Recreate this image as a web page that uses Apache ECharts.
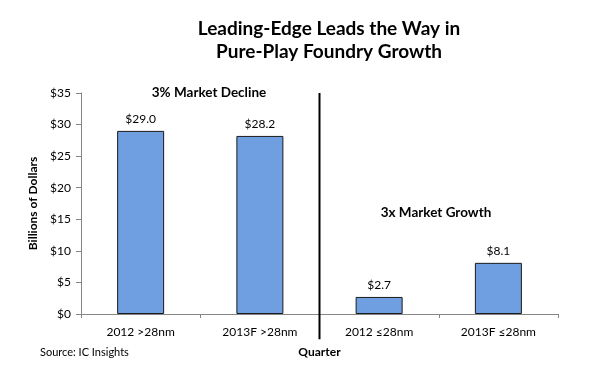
<!DOCTYPE html>
<html><head><meta charset="utf-8">
<script src="https://cdn.jsdelivr.net/npm/echarts@6/dist/echarts.min.js"></script>
<style>html,body{margin:0;padding:0;background:#fff}#c{width:600px;height:369px}</style>
</head><body><div id="c"></div>
<script>
var categories = ['2012 >28nm', '2013F >28nm', '2012 \u226428nm', '2013F \u226428nm'];
var values = [29.0, 28.2, 2.7, 8.1];
var yTicks = [0, 5, 10, 15, 20, 25, 30, 35];
var dividerLine = [[2, 35], [2, -4]];
var FONT = 'Lato';
var chart = echarts.init(document.getElementById('c'));
chart.setOption({
  animation: false,
  textStyle: {fontFamily: FONT},
  title: {
    text: 'Leading-Edge Leads the Way in\nPure-Play Foundry Growth',
    left: 324, top: 12, textAlign: 'center',
    textStyle: {fontFamily: FONT, fontSize: 19, fontWeight: 'bold', color: '#000', lineHeight: 23}
  },
  grid: {left: 81, right: 42, top: 93, bottom: 55},
  xAxis: [{
    type: 'category', data: categories,
    axisLine: {lineStyle: {color: '#868686'}},
    axisTick: {show: true, alignWithLabel: false, length: 4, lineStyle: {color: '#868686'}},
    axisLabel: {color: '#000', fontSize: 12, margin: 12, fontFamily: FONT},
    name: 'Quarter', nameLocation: 'middle', nameGap: 32,
    nameTextStyle: {fontWeight: 'bold', fontSize: 12, color: '#000', fontFamily: FONT}
  }, {
    type: 'value', min: 0, max: 4, show: false
  }],
  yAxis: {
    type: 'value', min: yTicks[0], max: yTicks[yTicks.length - 1], interval: 5,
    axisLine: {show: true, lineStyle: {color: '#868686'}},
    axisTick: {show: true, length: 5, lineStyle: {color: '#868686'}},
    splitLine: {show: false},
    axisLabel: {color: '#000', fontSize: 12, margin: 10, fontFamily: FONT, formatter: function (v) { return '$' + v; }},
    name: 'Billions of Dollars', nameLocation: 'middle', nameRotate: 90, nameGap: 42,
    nameTextStyle: {fontWeight: 'bold', fontSize: 12, color: '#000', fontFamily: FONT}
  },
  series: [{
    type: 'bar', data: values, barWidth: 47,
    itemStyle: {color: '#6f9fe0', borderColor: '#1a1a1a', borderWidth: 1},
    label: {show: true, position: 'top', distance: 6, fontSize: 12, color: '#000', fontFamily: FONT,
      formatter: function (p) { return '$' + p.value.toFixed(1); }}
  }, {
    type: 'line', xAxisIndex: 1, data: dividerLine, clip: false, symbol: 'none',
    lineStyle: {color: '#000', width: 2}, silent: true
  }],
  graphic: [
    {type: 'text', x: 209, y: 93, style: {text: '3% Market Decline', fontFamily: FONT, fontWeight: 'bold', fontSize: 13.5, fill: '#000', textAlign: 'center', textVerticalAlign: 'middle'}},
    {type: 'text', x: 436, y: 213, style: {text: '3x Market Growth', fontFamily: FONT, fontWeight: 'bold', fontSize: 13.5, fill: '#000', textAlign: 'center', textVerticalAlign: 'middle'}},
    {type: 'text', x: 40, y: 352, style: {text: 'Source: IC Insights', fontFamily: FONT, fontSize: 11, fill: '#000', textAlign: 'left', textVerticalAlign: 'middle'}}
  ]
});
</script></body></html>
